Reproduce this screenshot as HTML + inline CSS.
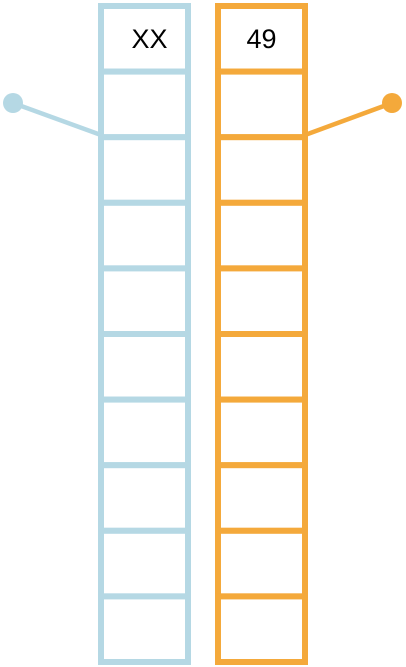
<!DOCTYPE html>
<html><head><meta charset="utf-8"><style>
html,body{margin:0;padding:0;background:#fff;}
svg{display:block;}
text{font-family:"Liberation Sans",sans-serif;}
</style></head><body>
<svg id="chart" width="406" height="667"></svg>
<script>
const columns = ["left", "right"];
const topLabels = ["XX", "49"];
const cellCounts = [10, 10];
const colors = ["#b5d8e4", "#f4a93b"];
const svg = document.getElementById('chart');
const NS = 'http://www.w3.org/2000/svg';
const colX = [101, 218], colW = 87, y0 = 6, y1 = 662, sw = 6;
function mk(tag, attrs){const e=document.createElementNS(NS,tag);for(const k in attrs)e.setAttribute(k,attrs[k]);svg.appendChild(e);return e;}
columns.forEach((c,i)=>{
  const n = cellCounts[i], h=(y1-y0)/n, x=colX[i];
  for(let j=0;j<n;j++){
    const r = mk('rect',{x:x,y:y0+j*h,width:colW,height:h,fill:'#fff',stroke:colors[i],'stroke-width':sw});
    
    
  }
  const t = mk('text',{x:x+colW/2+(i===0?5:0),y:y0+42,'text-anchor':'middle','font-size':27,fill:'#000'});
  t.textContent = topLabels[i];
  
  
  const ax = i===0 ? x : x+colW, dx = i===0 ? 13 : 392;
  const l = mk('line',{x1:ax,y1:135,x2:dx,y2:103,stroke:colors[i],'stroke-width':4.5});
  
  
  const d = mk('circle',{cx:dx,cy:103,r:10,fill:colors[i]});
  
  
});
</script>
</body></html>
